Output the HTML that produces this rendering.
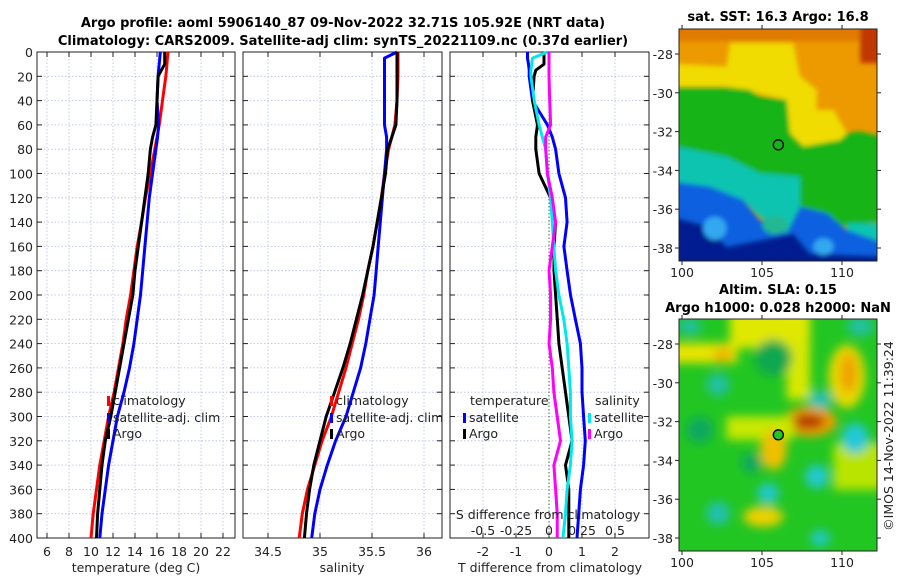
<!DOCTYPE html>
<html><head><meta charset="utf-8"><style>
html,body{margin:0;padding:0;background:#fff;}
svg{display:block;font-family:"DejaVu Sans","Liberation Sans",sans-serif;}
.t{font-size:12.5px;fill:#222;}
.b{font-size:13px;font-weight:bold;fill:#000;}
</style></head><body>
<svg id="fig" width="900" height="580" viewBox="0 0 900 580">
<defs>
<filter id="bl" filterUnits="userSpaceOnUse" x="0" y="0" width="800" height="900"><feGaussianBlur stdDeviation="7"/></filter>
<filter id="bl2" filterUnits="userSpaceOnUse" x="0" y="0" width="800" height="900"><feGaussianBlur stdDeviation="14"/></filter>
<clipPath id="c1"><rect x="58" y="88" width="592" height="695"/></clipPath>
</defs>
<text class="b" x="343" y="27" text-anchor="middle">Argo profile: aoml 5906140_87 09-Nov-2022 32.71S 105.92E (NRT data)</text>
<text class="b" x="343" y="45" text-anchor="middle">Climatology: CARS2009. Satellite-adj clim: synTS_20221109.nc (0.37d earlier)</text>
<g id="panels"></g>

<!-- SST map -->
<svg x="679" y="29" width="198" height="232" viewBox="58 88 592 695" preserveAspectRatio="none">
<g clip-path="url(#c1)">
<rect x="58" y="88" width="592" height="695" fill="#ec9a00"/>
<g filter="url(#bl)">
<rect x="0" y="0" width="700" height="125" fill="#e07a00"/>
<rect x="600" y="0" width="100" height="190" fill="#c03800"/>
<polygon points="0,190 200,200 210,130 400,130 420,230 470,270 470,330 520,330 560,400 560,480 440,480 380,420 380,300 200,260 0,260" fill="#f0dc00"/>
<polygon points="0,262 200,262 270,270 300,290 380,300 390,400 430,440 540,420 560,400 600,395 700,420 700,660 520,680 420,620 300,540 0,540" fill="#18b418"/>
<polygon points="0,430 200,470 300,520 420,530 420,620 380,700 300,650 250,600 0,560" fill="#10c4b0"/>
<polygon points="560,670 700,670 700,740 560,720" fill="#10c4b0"/>
<polygon points="0,540 150,560 250,600 300,660 380,700 420,620 500,640 560,690 700,740 700,900 0,900" fill="#1060e0"/>
<polygon points="0,640 150,680 200,740 300,720 400,700 450,760 700,770 700,900 0,900" fill="#001c90"/>
<ellipse cx="165" cy="685" rx="35" ry="35" fill="#30a8f0"/>
<ellipse cx="345" cy="675" rx="38" ry="28" fill="#20b890"/>
<ellipse cx="490" cy="740" rx="30" ry="25" fill="#30a8f0"/>
</g>
<circle cx="355" cy="435" r="15" fill="none" stroke="#000" stroke-width="4"/>
</g>
</svg>
<!-- SLA map -->
<svg x="679" y="319" width="198" height="232" viewBox="58 88 592 695" preserveAspectRatio="none">
<g clip-path="url(#c1)">
<rect x="58" y="88" width="592" height="695" fill="#22c622"/>
<g filter="url(#bl2)">
<rect x="0" y="160" width="233" height="60" fill="#e8e400"/>
<ellipse cx="190" cy="195" rx="30" ry="20" fill="#f0b000"/>
<rect x="210" y="40" width="240" height="135" fill="#e0e800"/>
<rect x="380" y="150" width="70" height="180" fill="#d8e800"/>
<ellipse cx="340" cy="205" rx="55" ry="55" fill="#10a850"/>
<ellipse cx="560" cy="260" rx="55" ry="95" fill="#e8d800"/>
<ellipse cx="565" cy="250" rx="25" ry="60" fill="#f0a000"/>
<ellipse cx="450" cy="395" rx="80" ry="45" fill="#f0a000"/>
<ellipse cx="445" cy="395" rx="50" ry="22" fill="#b03000"/>
<rect x="200" y="380" width="200" height="70" fill="#c8e800"/>
<ellipse cx="340" cy="480" rx="40" ry="60" fill="#f0c000"/>
<rect x="520" y="460" width="180" height="140" fill="#b8e400"/>
<ellipse cx="310" cy="680" rx="60" ry="30" fill="#f0d000"/>
<ellipse cx="90" cy="110" rx="35" ry="25" fill="#20c0a0"/>
<ellipse cx="175" cy="285" rx="35" ry="35" fill="#20c0a0"/>
<ellipse cx="480" cy="330" rx="35" ry="28" fill="#20c0b0"/>
<ellipse cx="585" cy="445" rx="40" ry="45" fill="#20c8d8"/>
<ellipse cx="470" cy="560" rx="35" ry="35" fill="#20c8d0"/>
<ellipse cx="325" cy="610" rx="32" ry="30" fill="#20c8d0"/>
<ellipse cx="175" cy="670" rx="35" ry="35" fill="#20c0b0"/>
<ellipse cx="480" cy="745" rx="30" ry="25" fill="#20c8c0"/>
<ellipse cx="275" cy="520" rx="30" ry="30" fill="#10a860"/>
<ellipse cx="120" cy="420" rx="40" ry="40" fill="#10a860"/>
<ellipse cx="600" cy="110" rx="40" ry="30" fill="#20c0a0"/>
</g>
<circle cx="355" cy="435" r="15" fill="#22c622" stroke="#000" stroke-width="4"/>
</g>
</svg>
<text class="b" x="778" y="21" text-anchor="middle">sat. SST: 16.3 Argo: 16.8</text>
<text class="b" x="778" y="294" text-anchor="middle">Altim. SLA: 0.15</text>
<text class="b" x="778" y="312" text-anchor="middle">Argo h1000: 0.028 h2000: NaN</text>
<text class="t" transform="translate(893,436) rotate(-90)" text-anchor="middle">©IMOS 14-Nov-2022 11:39:24</text>
<g id="maps"></g>
</svg>
<script>
const depths=[0,5,10,15,20,40,60,70,80,100,120,140,160,180,200,220,240,260,280,300,320,340,360,380,400];
const tempClim=[17.0,16.95,16.9,16.85,16.8,16.5,16.2,16.0,15.8,15.4,14.95,14.6,14.2,13.9,13.6,13.2,12.9,12.5,12.1,11.6,11.2,10.8,10.5,10.2,10.0];
const tempSat=[16.3,16.25,16.2,16.15,16.1,16.0,16.15,16.05,15.9,15.6,15.3,15.1,14.9,14.7,14.5,14.2,13.9,13.5,13.0,12.4,12.0,11.6,11.3,11.0,10.8];
const tempArgo=[16.7,16.7,16.7,16.4,16.1,16.0,15.9,15.6,15.4,15.2,14.9,14.6,14.3,14.0,13.8,13.4,13.0,12.6,12.2,11.8,11.3,11.0,10.8,10.6,10.5];
const salClim=[35.75,35.75,35.75,35.75,35.75,35.74,35.72,35.69,35.66,35.62,35.59,35.55,35.51,35.46,35.42,35.37,35.31,35.25,35.18,35.11,35.02,34.95,34.88,34.83,34.80];
const salSat=[35.74,35.62,35.62,35.62,35.62,35.62,35.62,35.64,35.64,35.62,35.60,35.58,35.56,35.54,35.52,35.48,35.44,35.39,35.32,35.25,35.15,35.07,35.00,34.95,34.92];
const salArgo=[35.74,35.74,35.74,35.74,35.74,35.74,35.73,35.69,35.65,35.63,35.59,35.55,35.51,35.46,35.41,35.35,35.29,35.22,35.14,35.06,35.0,34.94,34.9,34.87,34.85];
const tDiffSat=[-0.65,-0.65,-0.62,-0.6,-0.6,-0.5,-0.05,0.1,0.2,0.3,0.5,0.55,0.45,0.55,0.65,0.8,0.95,1.0,1.0,1.05,1.1,1.05,0.95,0.9,0.85];
const tDiffArgo=[-0.15,-0.15,-0.15,-0.4,-0.45,-0.5,-0.35,-0.4,-0.4,-0.3,0.05,0.2,0.15,0.15,0.2,0.25,0.3,0.4,0.5,0.6,0.7,0.5,0.6,0.6,0.6];
const sDiffSat=[-0.012,-0.125,-0.13,-0.137,-0.137,-0.112,-0.075,-0.05,-0.025,-0.012,0.012,0.025,0.037,0.05,0.075,0.112,0.137,0.15,0.162,0.162,0.175,0.162,0.137,0.125,0.105];
const sDiffArgo=[0,0,0,0,0,0.005,0.012,-0.025,-0.025,-0.012,0.025,0.05,0.025,0,0.012,0.012,0,0.025,0.037,0.062,0.087,0.037,0.05,0.062,0.062];
const depthTicks=[0,20,40,60,80,100,120,140,160,180,200,220,240,260,280,300,320,340,360,380,400];
const tempTicks=[6,8,10,12,14,16,18,20,22];
const salTicks=[34.5,35,35.5,36];
const salTickLabels=["34.5","35","35.5","36"];
const dTTicks=[-2,-1,0,1,2];
const dSTicks=[-0.5,-0.25,0,0.25,0.5];
const dSTickLabels=["-0.5","-0.25","0","0.25","0.5"];
const latTicks=[-28,-30,-32,-34,-36,-38];
const lonTicks=[100,105,110];

const NS="http://www.w3.org/2000/svg";
const G=document.getElementById('panels');
function el(tag,attrs,parent,txt){const e=document.createElementNS(NS,tag);for(const k in attrs)e.setAttribute(k,attrs[k]);if(txt!==undefined)e.textContent=txt;(parent||G).appendChild(e);return e;}
const Y0=52,Y1=538;
const yD=d=>Y0+(d/400)*(Y1-Y0);
const xT=t=>47+(t-6)*11;
const xS=s=>268+(s-34.5)*104;
const xDT=v=>549+v*33;
const xDS=v=>549+v*4*33;

function panel(i,xl,xr,ticks,fx,labels,name){
  for(const d of depthTicks){const l=el('line',{x1:xl,x2:xr,y1:yD(d),y2:yD(d),stroke:'#b4bce4','stroke-width':0.8,'stroke-dasharray':'1.5,2'});
  }
  ticks.forEach((t,k)=>{const x=fx(t);
    const l=el('line',{x1:x,x2:x,y1:Y0,y2:Y1,stroke:'#b4bce4','stroke-width':0.8,'stroke-dasharray':'1.5,2'});
    
    el('line',{x1:x,x2:x,y1:Y1,y2:Y1-5,stroke:'#222'});el('line',{x1:x,x2:x,y1:Y0,y2:Y0+5,stroke:'#222'});
    const tx=el('text',{class:'t',x:x,y:556,'text-anchor':'middle'},G,labels[k]);
    });
  for(const d of depthTicks){el('line',{x1:xl,x2:xl+5,y1:yD(d),y2:yD(d),stroke:'#222'});el('line',{x1:xr,x2:xr-5,y1:yD(d),y2:yD(d),stroke:'#222'});}
  const r=el('rect',{x:xl,y:Y0,width:xr-xl,height:Y1-Y0,fill:'none',stroke:'#222','stroke-width':1});
  
}
function line(vals,fx,color,name){
  const pts=vals.map((v,k)=>fx(v).toFixed(1)+','+yD(depths[k]).toFixed(1)).join(' ');
  const p=el('polyline',{points:pts,fill:'none',stroke:color,'stroke-width':3,'stroke-linejoin':'round'});
  
}
function legend(x,y,color,label,name){
  el('rect',{x:x,y:y-9,width:3,height:10,fill:color});
  const t=el('text',{class:'t',x:x+6,y:y},G,label);
  
}
panel(0,37,235,tempTicks,xT,tempTicks.map(String),'temperature');
panel(1,243,442,salTicks,xS,salTickLabels,'salinity');
panel(2,450,649,dTTicks,xDT,dTTicks.map(String),'t-difference');
for(const d of depthTicks){const t=el('text',{class:'t',x:33,y:yD(d)+5,'text-anchor':'end'},G,String(d));
}
const zl=el('line',{x1:549,x2:549,y1:Y0,y2:Y1,stroke:'#446644','stroke-width':1,'stroke-dasharray':'1.5,2'});


line(tempClim,xT,'#ff0000','temp-climatology-line');
line(tempSat,xT,'#0000ff','temp-satellite-line');
line(tempArgo,xT,'#000000','temp-argo-line');
line(salClim,xS,'#ff0000','sal-climatology-line');
line(salSat,xS,'#0000ff','sal-satellite-line');
line(salArgo,xS,'#000000','sal-argo-line');
line(tDiffSat,xDT,'#0000ff','tdiff-satellite-line');
line(tDiffArgo,xDT,'#000000','tdiff-argo-line');
line(sDiffSat,xDS,'#00e8e8','sdiff-satellite-line');
line(sDiffArgo,xDS,'#ff00ff','sdiff-argo-line');

legend(107,405,'#ff0000','climatology','legend-climatology');
legend(107,422,'#0000ff','satellite-adj. clim','legend-satellite');
legend(107,438,'#000000','Argo','legend-argo');
legend(330,405,'#ff0000','climatology','legend-climatology-2');
legend(330,422,'#0000ff','satellite-adj. clim','legend-satellite-2');
legend(330,438,'#000000','Argo','legend-argo-2');
let tt=el('text',{class:'t',x:470,y:405},G,'temperature');
legend(463,422,'#0000ff','satellite','legend-t-satellite');
legend(463,438,'#000000','Argo','legend-t-argo');
tt=el('text',{class:'t',x:595,y:405},G,'salinity');
legend(588,422,'#00e8e8','satellite','legend-s-satellite');
legend(588,438,'#ff00ff','Argo','legend-s-argo');

tt=el('text',{class:'t',x:548,y:519,'text-anchor':'middle'},G,'S difference from climatology');
dSTicks.forEach((s,k)=>{const t=el('text',{class:'t',x:xDS(s),y:535,'text-anchor':'middle'},G,dSTickLabels[k]);
});
[['temperature (deg C)',136,'temperature-axis-title'],['salinity',342,'salinity-axis-title'],['T difference from climatology',550,'t-diff-axis-title']].forEach(a=>{
 const t=el('text',{class:'t',x:a[1],y:572,'text-anchor':'middle'},G,a[0]);});

const M=document.getElementById('maps');
function mapAxes(top,bot,pfx){
  const latY=l=>top+25+(-28-l)*(bot-top-38)/10;
  const lonX=l=>682+(l-100)*16;
  const r=el('rect',{x:679,y:top,width:198,height:bot-top,fill:'none',stroke:'#222'},M);
  
  for(const l of latTicks){const y=latY(l);
    el('line',{x1:679,x2:675,y1:y,y2:y,stroke:'#222'},M);el('line',{x1:877,x2:881,y1:y,y2:y,stroke:'#222'},M);
    const t=el('text',{class:'t',x:673,y:y+5,'text-anchor':'end'},M,String(l));
    }
  for(const l of lonTicks){const x=lonX(l);
    el('line',{x1:x,x2:x,y1:bot,y2:bot+4,stroke:'#222'},M);el('line',{x1:x,x2:x,y1:top,y2:top-4,stroke:'#222'},M);
    const t=el('text',{class:'t',x:x,y:bot+16,'text-anchor':'middle'},M,String(l));
    }
}
mapAxes(29,261,'sst');
mapAxes(319,551,'sla');
</script>
</body></html>
